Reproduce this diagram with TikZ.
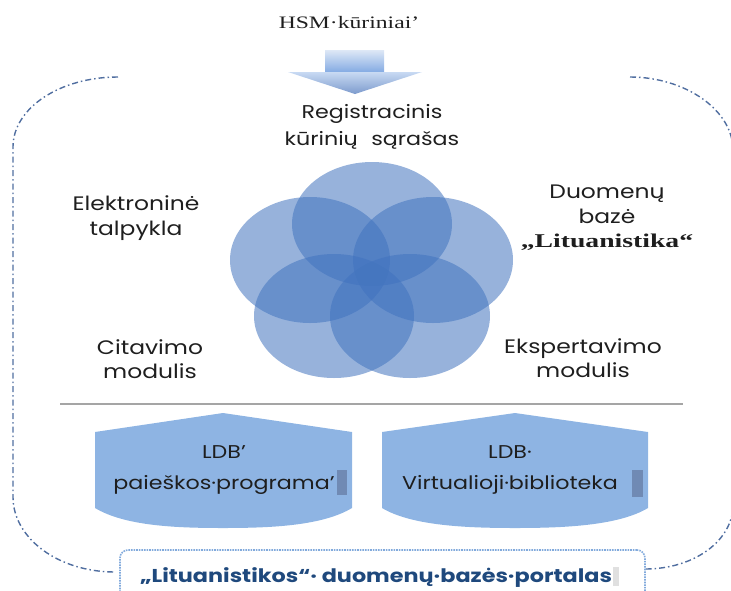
\documentclass[tikz,border=0pt]{standalone}
\usepackage{fontspec}
\setmainfont[FakeStretch=1.2]{Poppins}
\newfontfamily\serifwide[FakeStretch=1.35]{Liberation Serif}
\newfontfamily\serifwider[FakeStretch=1.42]{Liberation Serif}
\definecolor{circblue}{RGB}{65,115,190}
\definecolor{shapeblue}{RGB}{142,180,227}
\definecolor{framecol}{RGB}{80,110,160}
\definecolor{portalblue}{RGB}{31,73,125}
\definecolor{portalline}{RGB}{130,170,220}
\definecolor{sepgray}{RGB}{165,165,165}
\definecolor{markgray}{RGB}{112,138,180}
\definecolor{txt}{RGB}{30,30,30}
\tikzset{
  venn/.style={fill=circblue, fill opacity=0.55},
  lbl/.style={align=center, text=txt, inner sep=0pt, font=\fontsize{19.5}{24.5}\selectfont},
  ldbshape/.style={fill=shapeblue},
  ldbtext/.style={align=center, text=txt, inner sep=0pt, font=\fontsize{18.5}{31}\selectfont},
  framestyle/.style={draw=framecol, line width=1.4pt, dash pattern=on 6pt off 3pt on 1.5pt off 3pt},
  portalbox/.style={draw=portalline, line width=1.6pt, densely dotted, rounded corners=8pt, fill=white,
    minimum width=525pt, minimum height=56pt, inner sep=0pt},
  barmark/.style={fill=markgray}
}
\begin{document}
\begin{tikzpicture}[x=1pt,y=-1pt]
\useasboundingbox (0,0) rectangle (731,590);
\clip (0,0) rectangle (731,590);
% top arrow
\shade[top color={rgb,255:red,222;green,232;blue,246}, bottom color={rgb,255:red,128;green,168;blue,226}]
  (325,50) rectangle (384,73);
\shade[top color={rgb,255:red,200;green,218;blue,243}, bottom color={rgb,255:red,125;green,155;blue,205}]
  (288,72) -- (422,72) -- (355,94) -- cycle;
\node[font=\serifwide\fontsize{17.5}{20}\selectfont, text=txt, inner sep=0pt] (hsm) at (349,23) {HSM·kūriniai’};
% venn circles
\fill[venn] (372,224) ellipse [x radius=80pt, y radius=62pt];
\fill[venn] (310,260) ellipse [x radius=80pt, y radius=63pt];
\fill[venn] (433,260) ellipse [x radius=80pt, y radius=63pt];
\fill[venn] (334,316) ellipse [x radius=80pt, y radius=62pt];
\fill[venn] (410,316) ellipse [x radius=80pt, y radius=62pt];
% labels
\node[lbl, font=\fontsize{18.5}{27}\selectfont] (reg) at (372,127) {Registracinis\\kūrinių\hspace{0.4em} sąrašas};
\node[lbl] (el) at (136,218) {Elektroninė\\talpykla};
\node[lbl] (cit) at (150,359) {Citavimo\\modulis};
\node[lbl] (eks) at (583,358) {Ekspertavimo\\modulis};
\node[lbl] (duom) at (607,218) {Duomenų\\bazė\\{\serifwider\bfseries\fontsize{19.5}{20}\selectfont „Lituanistika“}};
% separator
\coordinate (sepL) at (60,404);
\coordinate (sepR) at (683,404);
\draw[sepgray, line width=1.5pt] (sepL) -- (sepR);
% LDB shapes
\fill[ldbshape] (95,432) -- (223,413) -- (352,432) -- (352,508)
  .. controls (322,526) and (270,528) .. (223,528)
  .. controls (176,528) and (125,526) .. (95,508) -- cycle;
\fill[ldbshape] (382,432) -- (515,413) -- (648,432) -- (648,508)
  .. controls (618,526) and (562,528) .. (515,528)
  .. controls (468,528) and (412,526) .. (382,508) -- cycle;
\fill[barmark] (337,470) rectangle (347,495);
\fill[barmark] (632,470) rectangle (643,497);
\node[ldbtext] (ldb1) at (224,470) {LDB’\\paieškos·programa’};
\node[ldbtext] (ldb2) at (510,470) {LDB·\\Virtualioji·biblioteka};
% frame
\draw[framestyle] (118,77) .. controls (60,77) and (13,108) .. (13,147) -- (13,497)
  .. controls (13,538) and (58,572) .. (115,572);
\draw[framestyle] (630,77) .. controls (685,77) and (733,110) .. (733,150) -- (733,505)
  .. controls (733,540) and (695,569) .. (645,569);
% portal
\node[portalbox] (portal) at (382.5,578) {};
\fill[black!12] (613,567) rectangle (619,586);
\node[text=portalblue, font=\bfseries\fontsize{18.6}{22}\selectfont, inner sep=0pt] (portaltxt) at (376,578)
  {„Lituanistikos“·\ duomenų·bazės·portalas};
\end{tikzpicture}
\end{document}
